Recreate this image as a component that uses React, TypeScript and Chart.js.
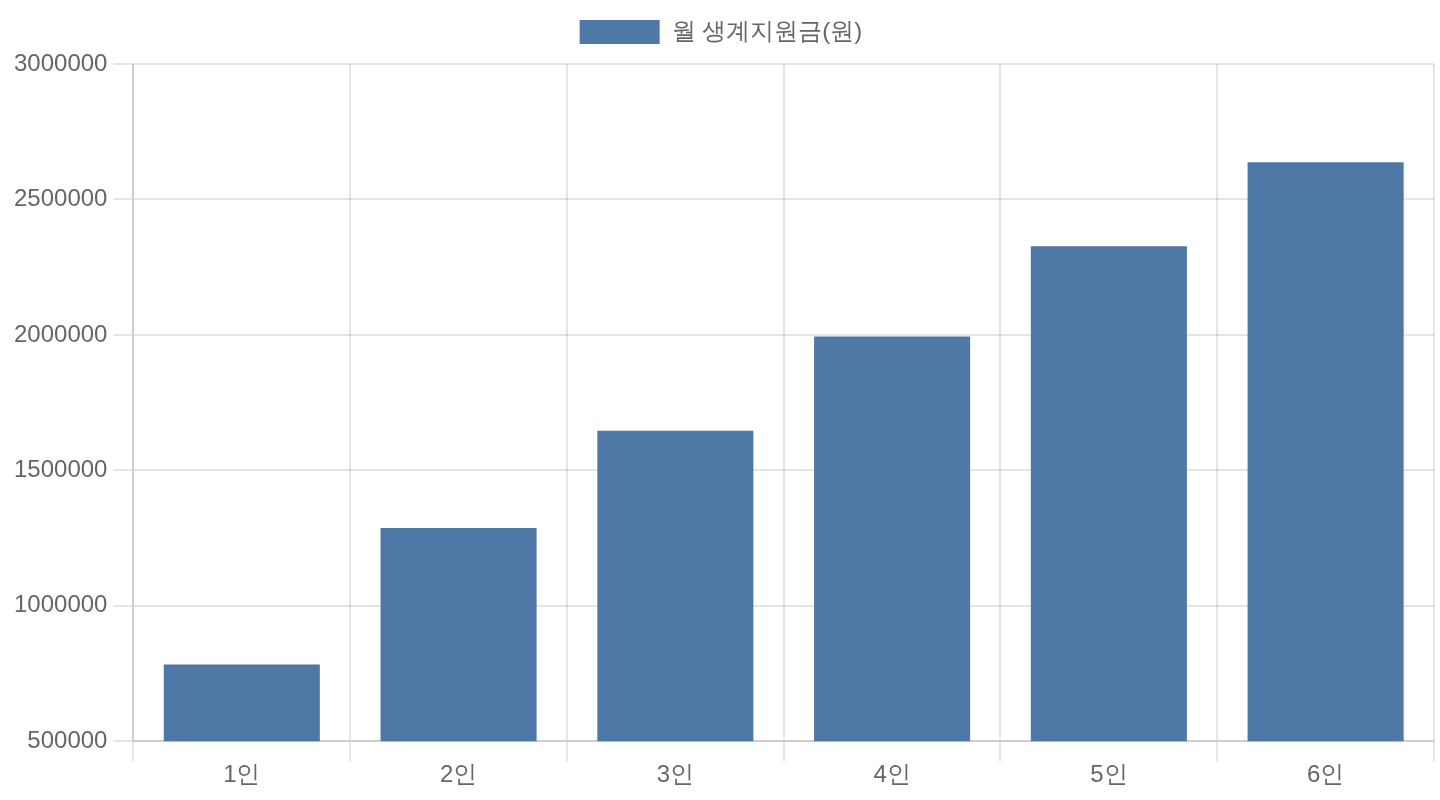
import React, { useEffect, useRef } from 'react';
import { Chart, registerables } from 'chart.js';

Chart.register(...registerables);

const householdSizes = ['1인', '2인', '3인', '4인', '5인', '6인'];
const monthlySupport = [783000, 1287000, 1646000, 1994000, 2327000, 2637000];
const seriesLabel = '월 생계지원금(원)';
const yMin = 500000;
const yMax = 3000000;
const yStep = 500000;

const App: React.FC = () => {
  const chartRef = useRef<HTMLCanvasElement>(null);
  const chartInstance = useRef<Chart | null>(null);

  useEffect(() => {
    if (chartRef.current) {
      if (chartInstance.current) {
        chartInstance.current.destroy();
        chartInstance.current = null;
      }

      const ctx = chartRef.current.getContext('2d');
      if (ctx) {
        chartInstance.current = new Chart(ctx, {
          type: 'bar',
          data: {
            labels: householdSizes,
            datasets: [{
              label: seriesLabel,
              data: monthlySupport,
              backgroundColor: '#4e79a7',
              borderWidth: 0
            }]
          },
          options: {
            responsive: true,
            maintainAspectRatio: false,
            devicePixelRatio: 2,
            animation: false,
            layout: {
              padding: { left: 4, right: 3, bottom: 5 }
            },
            plugins: {
              legend: { display: true, position: 'top' },
              tooltip: { enabled: false }
            },
            scales: {
              x: {
                grid: { offset: true, tickLength: 10 },
                ticks: { padding: 0 }
              },
              y: {
                min: yMin,
                max: yMax,
                grid: { tickLength: 10 },
                ticks: {
                  stepSize: yStep,
                  padding: 3,
                  callback: (value) => String(value)
                }
              }
            }
          }
        });
      }
    }

    return () => {
      if (chartInstance.current) {
        chartInstance.current.destroy();
        chartInstance.current = null;
      }
    };
  }, []);

  // drawn at 720x400 with 2x pixel ratio, then scaled up to fill 1440x800
  return (
    <div
      style={{
        position: 'fixed',
        left: 0,
        top: 0,
        width: 720,
        height: 400,
        transform: 'scale(2)',
        transformOrigin: '0 0',
        background: '#fff'
      }}
    >
      <canvas ref={chartRef}></canvas>
    </div>
  );
};

export default App;
